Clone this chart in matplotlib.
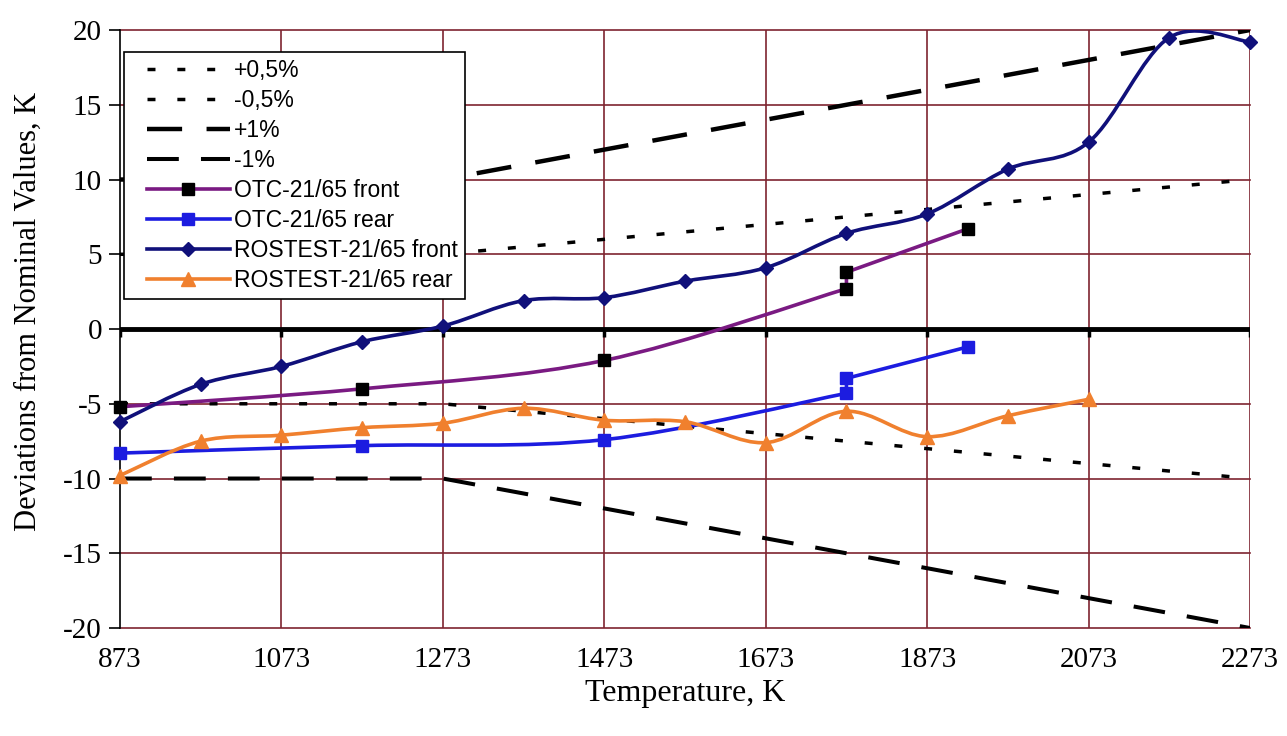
# Thermocouple deviations vs temperature with tolerance bands
import numpy as np
import matplotlib
matplotlib.use("Agg")
import matplotlib.pyplot as plt
from matplotlib.path import Path
from matplotlib.patches import PathPatch
from matplotlib.lines import Line2D
from matplotlib.legend_handler import HandlerLine2D

plt.rcParams['axes.unicode_minus'] = False

# tolerance band breakpoints (K, deviation K)
tol_T = [873, 1273, 2273]
tol_05 = [5, 5, 10]
tol_1 = [10, 10, 20]

# OTC-21/65
otc_T = [873, 1173, 1473, 1773, 1773, 1923]
otc_front = [-5.2, -4.0, -2.1, 2.7, 3.8, 6.7]
otc_rear = [-8.3, -7.8, -7.4, -4.3, -3.3, -1.2]

# ROSTEST-21/65
ros_front_T = [873, 973, 1073, 1173, 1273, 1373, 1473, 1573, 1673, 1773,
               1873, 1973, 2073, 2173, 2273]
ros_front = [-6.2, -3.7, -2.5, -0.85, 0.2, 1.9, 2.1, 3.2, 4.1, 6.4,
             7.7, 10.7, 12.5, 19.5, 19.2]
ros_rear_T = [873, 973, 1073, 1173, 1273, 1373, 1473, 1573, 1673, 1773,
              1873, 1973, 2073]
ros_rear = [-9.8, -7.5, -7.1, -6.6, -6.3, -5.3, -6.1, -6.2, -7.6, -5.5,
            -7.2, -5.8, -4.7]

xticks = [873, 1073, 1273, 1473, 1673, 1873, 2073, 2273]
yticks = [-20, -15, -10, -5, 0, 5, 10, 15, 20]

GRID = '#7e2430'


def smooth_path(xs, ys):
    # Excel-like smoothed line (Catmull-Rom as cubic Bezier), straight at vertical jumps
    p = np.column_stack([xs, ys]).astype(float)
    n = len(p)
    verts = [p[0]]
    codes = [Path.MOVETO]
    for i in range(n - 1):
        if p[i + 1][0] == p[i][0]:
            verts.append(p[i + 1])
            codes.append(Path.LINETO)
            continue
        p0 = p[i - 1] if i > 0 and p[i - 1][0] != p[i][0] else p[i]
        p3 = p[i + 2] if i + 2 < n and p[i + 2][0] != p[i + 1][0] else p[i + 1]
        c1 = p[i] + (p[i + 1] - p0) / 6
        c2 = p[i + 1] - (p3 - p[i]) / 6
        verts += [c1, c2, p[i + 1]]
        codes += [Path.CURVE4] * 3
    return Path(verts, codes)


class IndentHandler(HandlerLine2D):
    # legend line starting a bit to the right of the frame, marker in its middle
    def get_xdata(self, legend, xdescent, ydescent, width, height, fontsize):
        x0 = -xdescent + 0.16 * width
        x1 = -xdescent + width
        return [x0, x1], [0.5 * (x0 + x1)]


fig = plt.figure(figsize=(12.87, 7.36), dpi=100)
ax = fig.add_axes([0.0932, 0.1467, 0.8781, 0.8125])

ax.set_xlim(873, 2273)
ax.set_ylim(-20, 20)

# grid
for x in xticks[1:]:
    ax.axvline(x, color=GRID, lw=1.2, zorder=1)
for y in yticks:
    if y != 0:
        ax.axhline(y, color=GRID, lw=1.2, zorder=1, clip_on=False)

# tolerance lines
d05 = (2.3, 6.3)
d1 = (7.9, 5.5)
ax.plot(tol_T, tol_05, color='black', lw=2.5, dashes=d05, zorder=2)
ax.plot(tol_T, [-v for v in tol_05], color='black', lw=2.5, dashes=d05, zorder=2)
ax.plot(tol_T, tol_1, color='black', lw=3.2, dashes=d1, zorder=2)
ax.plot(tol_T, [-v for v in tol_1], color='black', lw=2.9, dashes=d1, zorder=2)

# zero axis with ticks
ax.axhline(0, color='black', lw=3.5, zorder=3)
ax.vlines(xticks, -0.55, 0, color='black', lw=2.5, zorder=3)

series = [
    (otc_T, otc_front, '#7a1a82', 's', 'black', 8, 'OTC-21/65 front'),
    (otc_T, otc_rear, '#1c1ce0', 's', '#1c1ce0', 8, 'OTC-21/65 rear'),
    (ros_front_T, ros_front, '#10107a', 'D', '#10107a', 7.5, 'ROSTEST-21/65 front'),
    (ros_rear_T, ros_rear, '#f0802e', '^', '#f0802e', 9.5, 'ROSTEST-21/65 rear'),
]
for xs, ys, c, m, mc, ms, lab in series:
    ax.add_patch(PathPatch(smooth_path(xs, ys), fill=False, edgecolor=c,
                           lw=2.6, zorder=4, capstyle='round', joinstyle='round'))
    ax.plot(xs, ys, ls='none', marker=m, color=mc, ms=ms, zorder=5, clip_on=False)

# spines and ticks
for s in ['top', 'right', 'bottom']:
    ax.spines[s].set_visible(False)
ax.spines['left'].set_color('black')
ax.spines['left'].set_linewidth(1.2)
ax.set_yticks(yticks)
ax.set_yticklabels([str(v) for v in yticks], fontsize=21, family='Liberation Serif')
ax.tick_params(axis='y', direction='out', length=8, width=1.2, pad=5)
ax.set_xticks(xticks)
ax.set_xticklabels([str(v) for v in xticks], fontsize=21, family='Liberation Serif')
ax.tick_params(axis='x', length=0, pad=14)

ax.set_xlabel('Temperature, K', fontsize=23, family='Liberation Serif', labelpad=4)
ax.set_ylabel('Deviations from Nominal Values, K', fontsize=22,
              family='Liberation Serif')
ax.yaxis.set_label_coords(-0.068, 0.53)

# legend
handles = [
    Line2D([], [], color='black', lw=2.5, dashes=d05),
    Line2D([], [], color='black', lw=2.5, dashes=d05),
    Line2D([], [], color='black', lw=3.2, dashes=d1),
    Line2D([], [], color='black', lw=2.9, dashes=d1),
]
labels = ['+0,5%', '-0,5%', '+1%', '-1%']
for xs, ys, c, m, mc, ms, lab in series:
    handles.append(Line2D([], [], color=c, lw=2.6, marker=m, mfc=mc, mec=mc, ms=ms))
    labels.append(lab)
leg = ax.legend(handles, labels, loc='upper left', bbox_to_anchor=(0.0035, 0.963),
                borderaxespad=0, handlelength=4.3, handletextpad=0.18,
                labelspacing=0.3, borderpad=0.32, fancybox=False, framealpha=1,
                edgecolor='black', prop={'family': 'Liberation Sans', 'size': 16.5},
                handler_map={Line2D: IndentHandler()})
leg.get_frame().set_linewidth(1.2)
leg.set_zorder(10)

fig.savefig('out.png', dpi=100)
